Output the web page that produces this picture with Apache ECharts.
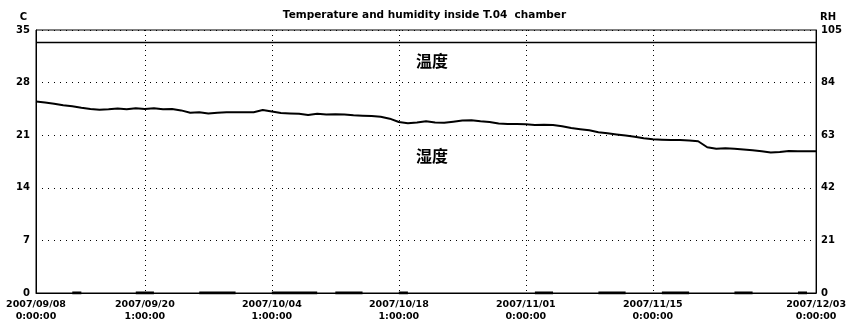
<!DOCTYPE html>
<html>
<head>
<meta charset="utf-8">
<script src="https://cdn.jsdelivr.net/npm/echarts@6/dist/echarts.min.js"></script>
<style>html,body{margin:0;padding:0;background:#fff;}#c{width:849px;height:332px;}</style>
</head>
<body>
<div id="c"></div>
<script>
// Categories: one per day from 2007/09/08 to 2007/12/03
const startDate = new Date(2007, 8, 8);
const dayCount = 87;
const categories = [];
for (let i = 0; i < dayCount; i++) {
  const d = new Date(startDate.getFullYear(), startDate.getMonth(), startDate.getDate() + i);
  categories.push(d.getFullYear() + '/' + String(d.getMonth() + 1).padStart(2, '0') + '/' + String(d.getDate()).padStart(2, '0'));
}
// Tick labels (category index -> label)
const tickIndex = [0, 12, 26, 40, 54, 68, 86];
const tickLabels = [
  '2007/09/08\n0:00:00', '2007/09/20\n1:00:00', '2007/10/04\n1:00:00', '2007/10/18\n1:00:00',
  '2007/11/01\n0:00:00', '2007/11/15\n0:00:00', '2007/12/03\n0:00:00'
];
const gridIndex = [12, 26, 40, 54, 68];

// Temperature (C, left axis), daily
const temperature = [
  25.5, 25.35, 25.2, 25.0, 24.85, 24.65, 24.5, 24.4, 24.45, 24.55,
  24.45, 24.6, 24.5, 24.6, 24.45, 24.5, 24.3, 24.0, 24.05, 23.9,
  24.0, 24.05, 24.05, 24.05, 24.05, 24.35, 24.15, 23.95, 23.9, 23.85,
  23.7, 23.85, 23.75, 23.8, 23.75, 23.65, 23.6, 23.55, 23.45, 23.2,
  22.75, 22.6, 22.7, 22.85, 22.7, 22.65, 22.8, 22.95, 23.0, 22.85,
  22.75, 22.55, 22.5, 22.5, 22.45, 22.35, 22.4, 22.35, 22.2, 21.95,
  21.8, 21.65, 21.4, 21.25, 21.1, 20.95, 20.8, 20.6, 20.45, 20.4,
  20.35, 20.35, 20.3, 20.2, 19.4, 19.2, 19.25, 19.2, 19.1, 19.0,
  18.85, 18.7, 18.75, 18.9, 18.85, 18.85, 18.85
];
// Humidity (RH, right axis), daily
const humidity = [
  100, 100, 100, 100, 100, 100, 100, 100, 100, 100,
  100, 100, 100, 100, 100, 100, 100, 100, 100, 100,
  100, 100, 100, 100, 100, 100, 100, 100, 100, 100,
  100, 100, 100, 100, 100, 100, 100, 100, 100, 100,
  100, 100, 100, 100, 100, 100, 100, 100, 100, 100,
  100, 100, 100, 100, 100, 100, 100, 100, 100, 100,
  100, 100, 100, 100, 100, 100, 100, 100, 100, 100,
  100, 100, 100, 100, 100, 100, 100, 100, 100, 100,
  100, 100, 100, 100, 100, 100, 100
];
// Short segments near zero along the bottom (null = no data)
const N = null;
const bottomTrace = [
  N, N, N, N, 0, 0, N, N, N, N,
  N, 0, 0, 0, N, N, N, N, 0, 0,
  0, 0, 0, N, N, N, 0, 0, 0, 0,
  0, 0, N, 0, 0, 0, 0, N, N, N,
  0, 0, N, N, N, N, N, N, N, N,
  N, N, N, N, N, 0, 0, 0, N, N,
  N, N, 0, 0, 0, 0, N, N, N, 0,
  0, 0, 0, N, N, N, N, 0, 0, 0,
  N, N, N, N, 0, 0, N
];

const fontFam = '"DejaVu Sans", "Liberation Sans", sans-serif';
const chart = echarts.init(document.getElementById('c'));
chart.setOption({
  animation: false,
  backgroundColor: '#fff',
  title: {
    text: 'Temperature and humidity inside T.04  chamber',
    left: 'center', top: 5,
    textStyle: { fontSize: 10.5, fontWeight: 'bold', color: '#000', fontFamily: fontFam }
  },
  grid: { left: 36, right: 31, top: 30, bottom: 39, show: true, borderColor: '#000', borderWidth: 1, backgroundColor: 'transparent' },
  xAxis: {
    type: 'category', data: categories, boundaryGap: false,
    axisLine: { show: true, lineStyle: { color: '#000', width: 1 } },
    axisTick: { show: false },
    axisLabel: {
      interval: (i) => tickIndex.includes(i),
      formatter: (v, i) => { const k = tickIndex.indexOf(i); return k >= 0 ? tickLabels[k] : ''; },
      fontSize: 9.5, fontWeight: 'bold', color: '#000', fontFamily: fontFam, lineHeight: 12, margin: 6
    },
    splitLine: { show: true, interval: (i) => gridIndex.includes(i), lineStyle: { color: '#000', type: [1, 4], width: 1 } }
  },
  yAxis: [
    {
      type: 'value', min: 0, max: 35, interval: 7, name: 'C',
      nameLocation: 'end', nameGap: 8,
      nameTextStyle: { fontSize: 10, fontWeight: 'bold', color: '#000', fontFamily: fontFam, align: 'right', padding: [0, 9, 0, 0] },
      axisLine: { show: true, lineStyle: { color: '#000', width: 1 } },
      axisTick: { show: false },
      axisLabel: { fontSize: 10, fontWeight: 'bold', color: '#000', fontFamily: fontFam, margin: 6 },
      splitLine: { show: true, lineStyle: { color: '#000', type: [1, 5], width: 1 } }
    },
    {
      type: 'value', min: 0, max: 105, interval: 21, name: 'RH', position: 'right',
      nameLocation: 'end', nameGap: 8,
      nameTextStyle: { fontSize: 10, fontWeight: 'bold', color: '#000', fontFamily: fontFam, align: 'left', padding: [0, 0, 0, 4] },
      axisLine: { show: true, lineStyle: { color: '#000', width: 1 } },
      axisTick: { show: false },
      axisLabel: { fontSize: 10, fontWeight: 'bold', color: '#000', fontFamily: fontFam, margin: 5 },
      splitLine: { show: false }
    }
  ],
  series: [
    { name: 'Temperature', type: 'line', yAxisIndex: 0, data: temperature, showSymbol: false, smooth: false,
      lineStyle: { color: '#000', width: 2 } },
    { name: 'Humidity', type: 'line', yAxisIndex: 1, data: humidity, showSymbol: false,
      lineStyle: { color: '#000', width: 1.5 } },
    { name: 'Bottom', type: 'line', yAxisIndex: 0, data: bottomTrace, showSymbol: false, connectNulls: false,
      lineStyle: { color: '#000', width: 3 } }
  ],
  graphic: [
    { type: 'text', left: 416, top: 53, style: { text: '温度', fontSize: 16, fontWeight: 'bold', fill: '#000', fontFamily: '"Noto Sans CJK SC", sans-serif' } },
    { type: 'text', left: 416, top: 148, style: { text: '湿度', fontSize: 16, fontWeight: 'bold', fill: '#000', fontFamily: '"Noto Sans CJK SC", sans-serif' } }
  ]
});
</script>
</body>
</html>
